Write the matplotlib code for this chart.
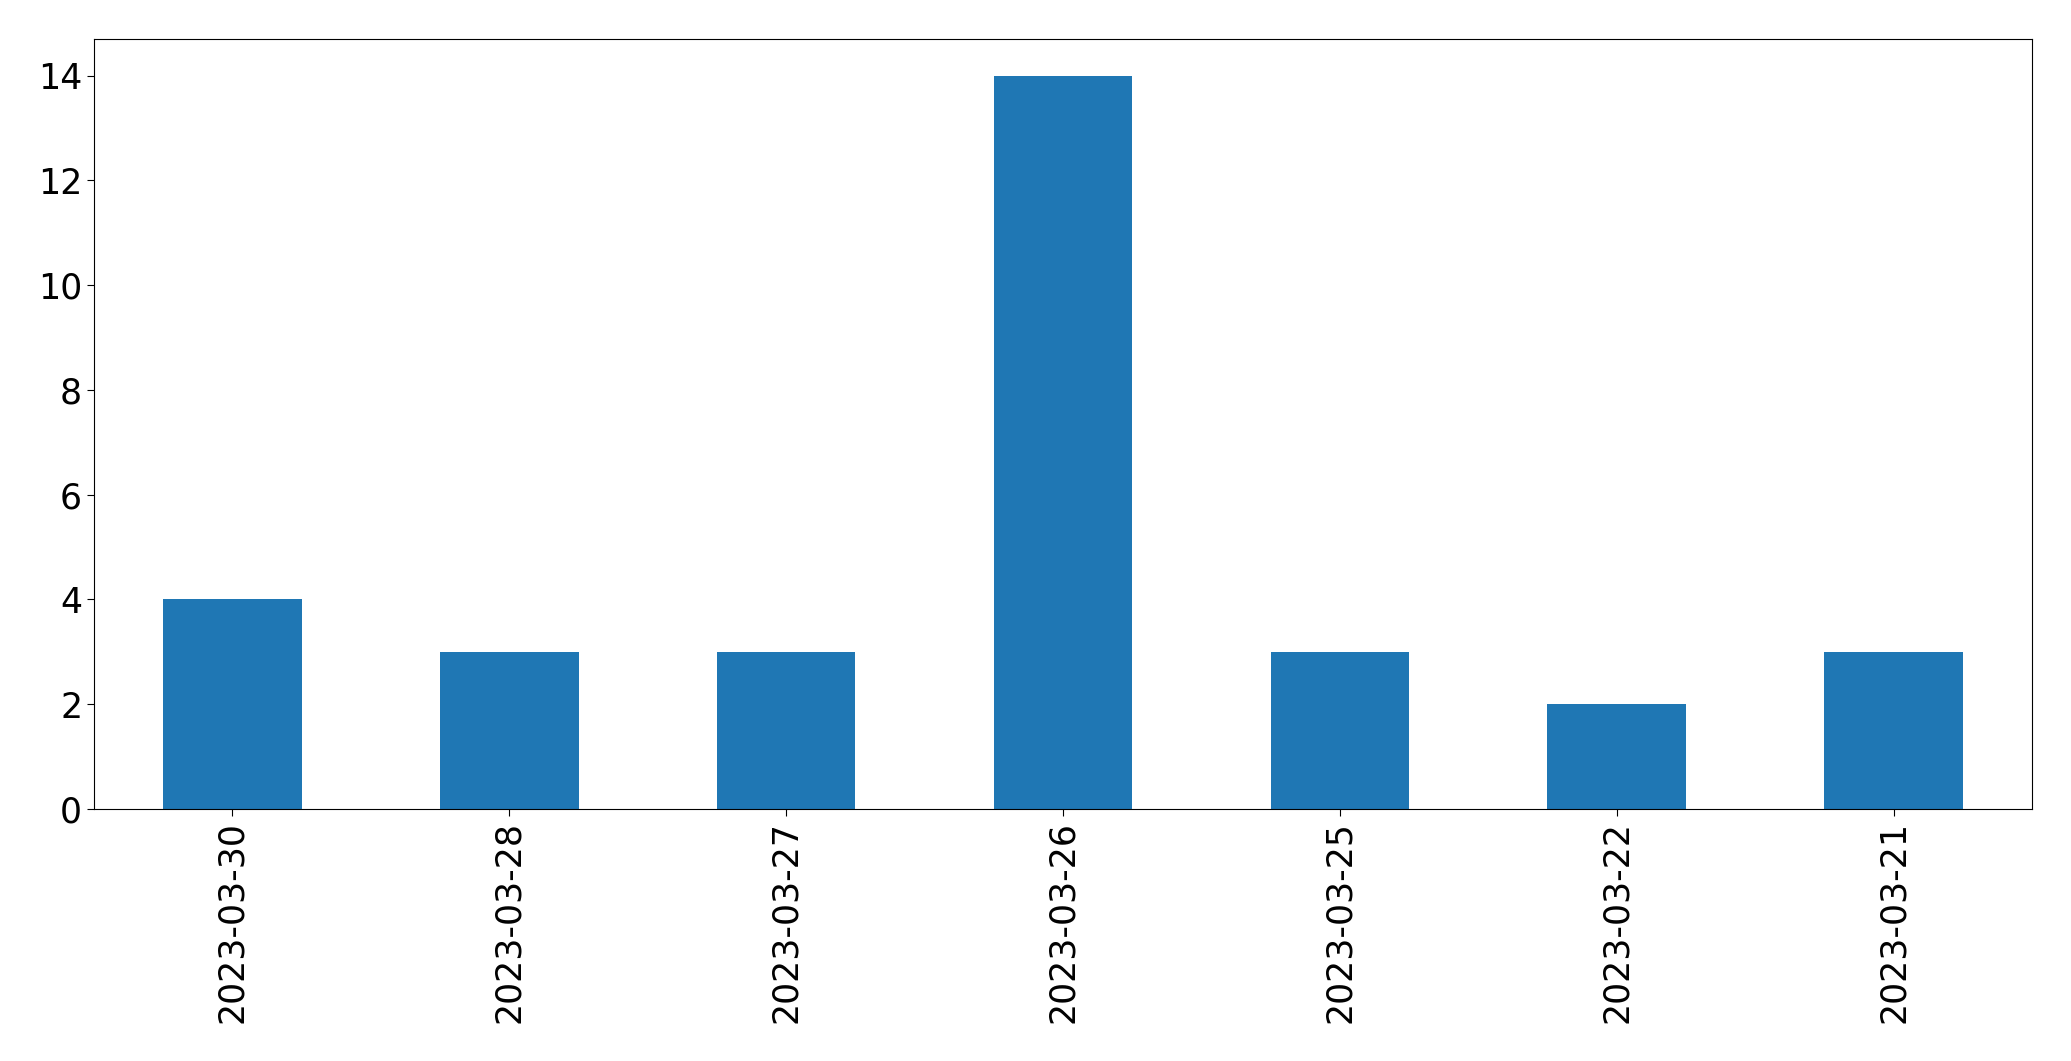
import matplotlib
matplotlib.use("Agg")
import matplotlib.pyplot as plt

dates = ["2023-03-30", "2023-03-28", "2023-03-27", "2023-03-26",
         "2023-03-25", "2023-03-22", "2023-03-21"]
counts = [4, 3, 3, 14, 3, 2, 3]

fig = plt.figure(figsize=(20.71, 10.61), dpi=100)
ax = fig.add_axes([94 / 2071, 1 - 809 / 1061, (2032 - 94) / 2071, (809 - 39) / 1061])

x = range(len(dates))
ax.bar(x, counts, width=0.5, color="#1f77b4")
ax.set_xlim(-0.5, len(dates) - 0.5)
ax.set_ylim(0, 14.7)
ax.set_xticks(list(x))
ax.set_xticklabels(dates, rotation=90)
ax.tick_params(labelsize=25, length=5)

fig.savefig("out.png", dpi=100)
